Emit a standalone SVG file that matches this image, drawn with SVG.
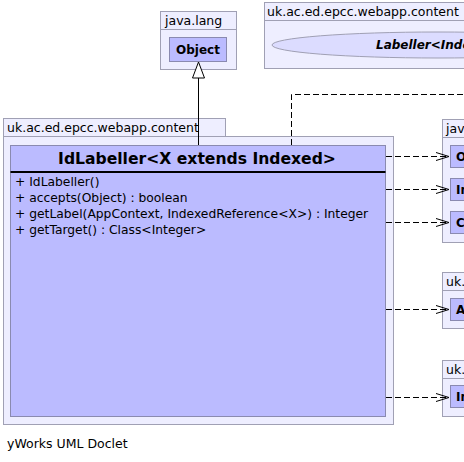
<svg xmlns="http://www.w3.org/2000/svg" width="464" height="462" viewBox="0 0 464 462">
<style>
.pkg{fill:#eeeeff;stroke:#a0a0b4;stroke-width:1}
.cls{fill:#bbbbff;stroke:#8a8ab0;stroke-width:1}
.pt{font-family:"DejaVu Sans",sans-serif;font-size:12.5px;fill:#000}
.bt{font-family:"DejaVu Sans",sans-serif;font-size:12px;font-weight:bold;fill:#000}
.mt{font-family:"DejaVu Sans",sans-serif;font-size:12.3px;fill:#000}
.dep{fill:none;stroke:#000;stroke-width:1;stroke-dasharray:6,3}
.ah{fill:none;stroke:#000;stroke-width:1}
</style>
<rect width="464" height="462" fill="#ffffff"/>
<g id="pkg-java-lang">
<rect class="pkg" x="160.5" y="11.5" width="76" height="18"/>
<rect class="pkg" x="160.5" y="29.5" width="76" height="40"/>
<text class="pt" x="165" y="25">java.lang</text>
</g>
<g id="Object">
<rect class="cls" x="169.5" y="37.5" width="57" height="24"/>
<text class="bt" x="198" y="54" text-anchor="middle">Object</text>
</g>
<g id="pkg-content-top">
<rect class="pkg" x="264.5" y="2.5" width="210" height="18"/>
<rect class="pkg" x="264.5" y="20.5" width="210" height="48"/>
<text class="pt" x="267" y="16">uk.ac.ed.epcc.webapp.content</text>
</g>
<g id="Labeller">
<ellipse cx="438" cy="45" rx="166" ry="13" fill="#dcdcff" stroke="#a0a0b4"/>
<text class="bt" x="376" y="49" font-style="italic">Labeller&lt;Indexed&gt;</text>
</g>
<g id="pkg-content-main">
<rect class="pkg" x="3.5" y="118.5" width="222" height="18"/>
<rect class="pkg" x="3.5" y="136.5" width="390" height="288"/>
<text class="pt" x="7" y="132">uk.ac.ed.epcc.webapp.content</text>
</g>
<g id="IdLabeller">
<rect class="cls" x="10.5" y="145.5" width="375" height="271"/>
<line x1="10.5" y1="172" x2="385.5" y2="172" stroke="#000" stroke-width="2"/>
<text x="197" y="164" text-anchor="middle" font-family="DejaVu Sans,sans-serif" font-size="15.6px" font-weight="bold">IdLabeller&lt;X extends Indexed&gt;</text>
<text class="mt" x="15" y="186">+ IdLabeller()</text>
<text class="mt" x="15" y="202">+ accepts(Object) : boolean</text>
<text class="mt" x="15" y="218">+ getLabel(AppContext, IndexedReference&lt;X&gt;) : Integer</text>
<text class="mt" x="15" y="234">+ getTarget() : Class&lt;Integer&gt;</text>
</g>
<g id="pkg-java-right">
<rect class="pkg" x="442.5" y="119.5" width="40" height="18"/>
<rect class="pkg" x="442.5" y="137.5" width="40" height="105"/>
<text class="pt" x="446" y="133">java</text>
</g>
<g id="R1">
<rect class="cls" x="450.5" y="145.5" width="40" height="22"/>
<text class="bt" x="456" y="161">Object</text>
</g>
<g id="R2">
<rect class="cls" x="450.5" y="178.5" width="40" height="22"/>
<text class="bt" x="456" y="194">Integer</text>
</g>
<g id="R3">
<rect class="cls" x="450.5" y="211.5" width="40" height="22"/>
<text class="bt" x="456" y="227">Class</text>
</g>
<g id="pkg-uk-right1">
<rect class="pkg" x="442.5" y="272.5" width="40" height="18"/>
<rect class="pkg" x="442.5" y="290.5" width="40" height="38"/>
<text class="pt" x="446" y="286">uk.ac</text>
</g>
<g id="R4">
<rect class="cls" x="450.5" y="298.5" width="40" height="22"/>
<text class="bt" x="456" y="314">AppContext</text>
</g>
<g id="pkg-uk-right2">
<rect class="pkg" x="442.5" y="360.5" width="40" height="18"/>
<rect class="pkg" x="442.5" y="378.5" width="40" height="38"/>
<text class="pt" x="446" y="374">uk.ac</text>
</g>
<g id="R5">
<rect class="cls" x="450.5" y="385.5" width="40" height="22"/>
<text class="bt" x="456" y="401">IndexedReference</text>
</g>
<g id="connectors">
<line x1="198.5" y1="78" x2="198.5" y2="145" stroke="#000"/>
<polygon points="198.5,62 192.5,78 204.5,78" fill="#fff" stroke="#000"/>
<polyline class="dep" points="291.5,145 291.5,94.5 464,94.5"/>
<line class="dep" x1="386" y1="156.5" x2="449" y2="156.5"/>
<polyline class="ah" points="436,152.5 449,156.5 436,160.5"/>
<line class="dep" x1="386" y1="189.5" x2="449" y2="189.5"/>
<polyline class="ah" points="436,185.5 449,189.5 436,193.5"/>
<line class="dep" x1="386" y1="222.5" x2="449" y2="222.5"/>
<polyline class="ah" points="436,218.5 449,222.5 436,226.5"/>
<line class="dep" x1="386" y1="309.5" x2="449" y2="309.5"/>
<polyline class="ah" points="436,305.5 449,309.5 436,313.5"/>
<line class="dep" x1="386" y1="397.5" x2="449" y2="397.5"/>
<polyline class="ah" points="436,393.5 449,397.5 436,401.5"/>
</g>
<text class="pt" x="7" y="448" font-size="11px">yWorks UML Doclet</text>
</svg>
